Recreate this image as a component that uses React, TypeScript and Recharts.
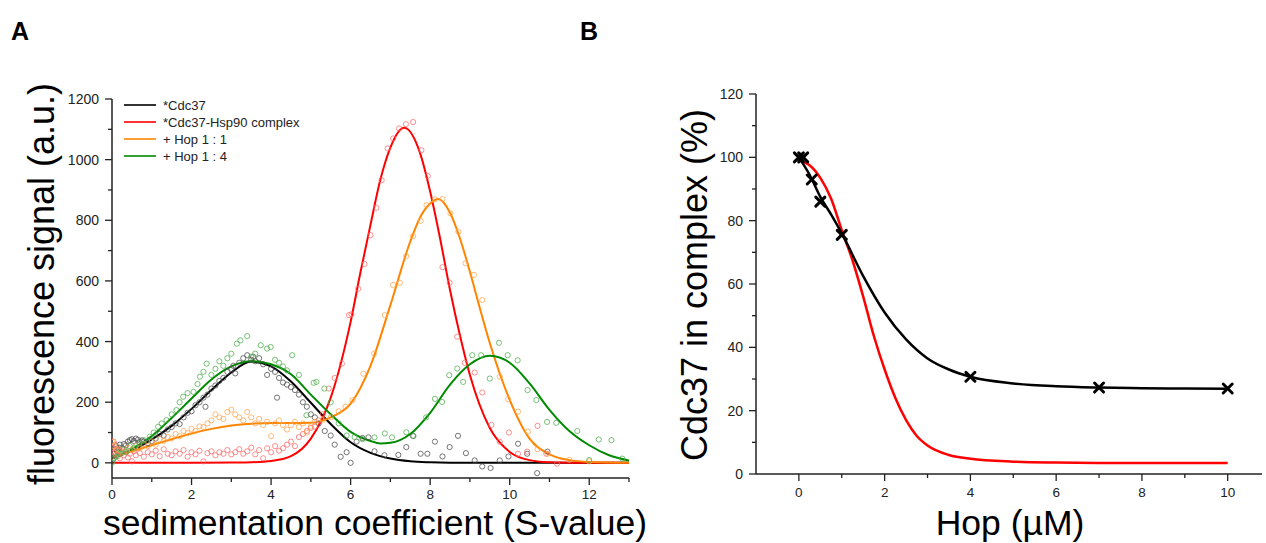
import React from 'react';
import { ComposedChart, Line, Scatter, XAxis, YAxis } from 'recharts';

type Pt = [number, number];

// ---- panel A: fitted curves, [S-value, signal] ----
const cdc37Fit: Pt[] = [
  [0, 15], [0.5, 40], [1, 77], [1.5, 122], [2, 178], [2.5, 240], [3, 298], [3.5, 334], [4, 318],
  [4.5, 268], [5, 198], [5.5, 128], [6, 68], [6.5, 33], [7, 14], [7.5, 5], [8, 2], [9, 0], [10, 0],
  [11, 0], [12, 0], [13, 0],
];
const hsp90Fit: Pt[] = [
  [0, 0], [1, 0], [2, 0], [3, 1], [3.5, 2], [4, 6], [4.5, 22], [5, 80], [5.5, 215], [6, 465],
  [6.25, 630], [6.5, 785], [6.75, 935], [7, 1040], [7.35, 1105], [7.75, 1020], [8, 895], [8.25, 740],
  [8.5, 570], [8.75, 420], [9, 290], [9.5, 115], [10, 36], [10.5, 9], [11, 2], [12, 0], [13, 0],
];
const hop11Fit: Pt[] = [
  [0, 18], [0.5, 38], [1, 58], [1.5, 78], [2, 97], [2.5, 112], [3, 123], [3.5, 129], [4, 131],
  [4.5, 131], [5, 132], [5.5, 150], [6, 195], [6.5, 320], [7, 520], [7.5, 730], [7.75, 810],
  [8, 855], [8.2, 870], [8.5, 825], [8.75, 740], [9, 630], [9.25, 510], [9.5, 395], [10, 208],
  [10.5, 80], [11, 28], [11.5, 9], [12, 3], [13, 0],
];
const hop14Fit: Pt[] = [
  [0, 15], [0.5, 45], [1, 88], [1.5, 148], [2, 212], [2.5, 275], [3, 318], [3.5, 335], [4, 325],
  [4.5, 292], [5, 225], [5.5, 160], [6, 102], [6.5, 72], [6.75, 64], [7, 66], [7.5, 95], [8, 165],
  [8.5, 258], [9, 325], [9.5, 353], [10, 330], [10.5, 262], [11, 175], [11.5, 105], [12, 58],
  [12.5, 25], [13, 8],
];

// ---- panel A: measured points ----
const cdc37Pts: Pt[] = [
  [0.02, 10], [0.05, 30], [0.08, 45], [0.1, 55], [0.13, 38], [0.17, 50], [0.2, 60], [0.25, 48],
  [0.3, 62], [0.35, 58], [0.4, 70], [0.45, 75], [0.5, 78], [0.55, 72], [0.6, 80], [0.65, 76],
  [0.7, 68], [0.75, 74], [0.8, 70], [0.9, 65], [1.0, 72], [1.1, 80], [1.2, 95], [1.3, 90],
  [1.4, 110], [1.5, 118], [1.6, 130], [1.7, 128], [1.8, 150], [1.9, 165], [2.0, 170], [2.1, 190],
  [2.2, 200], [2.3, 215], [2.35, 185], [2.4, 225], [2.5, 245], [2.6, 255], [2.7, 270], [2.8, 280],
  [2.9, 300], [3.0, 310], [3.05, 320], [3.1, 295], [3.2, 330], [3.3, 345], [3.4, 355], [3.5, 340],
  [3.55, 350], [3.6, 335], [3.7, 345], [3.8, 325], [3.9, 290], [4.0, 310], [4.1, 300], [4.15, 215],
  [4.2, 280], [4.3, 265], [4.4, 258], [4.5, 250], [4.6, 240], [4.7, 225], [4.8, 200], [4.9, 185],
  [5.0, 160], [5.1, 150], [5.2, 130], [5.35, 105], [5.5, 90], [5.6, 60], [5.75, 20], [5.9, 35],
  [6.0, 0], [6.15, 70], [6.3, 82], [6.45, 84], [6.6, 38], [6.85, 25], [7.2, 26], [7.4, 52],
  [7.57, 89], [7.76, 30], [7.93, 30], [8.12, 70], [8.31, 21], [8.49, 52], [8.7, 89], [8.9, 32],
  [9.12, 8], [9.31, -12], [9.52, -17], [9.75, 8], [9.97, 21], [10.21, 63], [10.44, 30],
  [10.69, -34], [10.95, 37],
];
const hsp90Pts: Pt[] = [
  [0, 20], [0.02, 50], [0.04, 70], [0.06, 35], [0.08, 60], [0.1, 28], [0.12, 45], [0.15, 22],
  [0.18, 40], [0.2, 15], [0.25, 35], [0.3, 25], [0.35, 42], [0.4, 18], [0.45, 30], [0.5, 5],
  [0.55, 38], [0.6, 25], [0.7, 32], [0.8, 20], [0.9, 35], [1.0, 28], [1.1, 40], [1.2, 22],
  [1.3, 45], [1.4, 30], [1.5, 25], [1.6, 38], [1.7, 30], [1.8, 42], [1.9, 20], [2.0, 35],
  [2.1, 28], [2.2, 40], [2.3, 5], [2.4, 32], [2.5, 38], [2.6, 25], [2.7, 35], [2.8, 30], [2.9, 42],
  [3.0, 28], [3.1, 35], [3.2, 45], [3.3, 30], [3.4, 38], [3.5, 50], [3.6, 28], [3.7, 42],
  [3.8, 15], [3.9, 48], [4.0, 35], [4.1, 55], [4.2, 40], [4.3, 48], [4.4, 60], [4.5, 70],
  [4.6, 55], [4.7, 85], [4.8, 95], [4.9, 105], [5.0, 115], [5.1, 120], [5.2, 140], [5.3, 160],
  [5.45, 245], [5.6, 280], [5.78, 327], [5.96, 487], [6.02, 490], [6.19, 574], [6.35, 656],
  [6.5, 751], [6.65, 841], [6.78, 932], [6.93, 1037], [7.07, 1070], [7.22, 1103], [7.39, 1117],
  [7.57, 1124], [7.78, 1031], [7.94, 946], [8.31, 645], [8.49, 594], [8.68, 416], [8.87, 330],
  [9.12, 298], [9.31, 232], [9.54, 125], [9.75, 70], [9.98, 100], [10.21, 30], [10.44, 37],
  [10.7, 122], [10.92, 30], [11.19, -3],
];
const hop11Pts: Pt[] = [
  [0, 70], [0.05, 55], [0.1, 40], [0.15, 30], [0.2, 45], [0.3, 35], [0.4, 50], [0.5, 42],
  [0.6, 55], [0.7, 48], [0.8, 62], [0.9, 55], [1.0, 70], [1.1, 60], [1.2, 78], [1.3, 72],
  [1.4, 85], [1.5, 80], [1.6, 95], [1.7, 88], [1.8, 105], [1.9, 98], [2.0, 112], [2.1, 105],
  [2.2, 120], [2.3, 118], [2.4, 130], [2.5, 140], [2.6, 160], [2.7, 150], [2.8, 145], [2.9, 168],
  [3.0, 175], [3.1, 160], [3.2, 150], [3.3, 140], [3.4, 168], [3.5, 150], [3.6, 130], [3.7, 145],
  [3.8, 125], [3.9, 135], [4.0, 88], [4.1, 130], [4.2, 140], [4.3, 125], [4.4, 110], [4.5, 124],
  [4.6, 135], [4.7, 118], [4.8, 130], [4.9, 100], [5.0, 120], [5.1, 135], [5.3, 142], [5.5, 150],
  [5.7, 170], [5.87, 185], [6.05, 207], [6.32, 294], [6.59, 360], [6.86, 487], [7.07, 587],
  [7.24, 594], [7.4, 682], [7.57, 748], [7.76, 798], [7.91, 850], [8.12, 869], [8.31, 870],
  [8.51, 823], [8.71, 762], [8.89, 658], [9.1, 620], [9.31, 537], [9.75, 284], [9.96, 210],
  [10.21, 169], [10.46, 103], [10.7, 45], [10.95, 30], [11.5, 10], [12.0, 5],
];
const hop14Pts: Pt[] = [
  [0, 0], [0.05, 15], [0.1, 20], [0.15, 35], [0.2, 30], [0.3, 45], [0.36, 36], [0.45, 55],
  [0.55, 50], [0.69, 64], [0.8, 75], [0.95, 86], [1.05, 100], [1.16, 119], [1.25, 130],
  [1.37, 141], [1.5, 160], [1.62, 174], [1.7, 200], [1.79, 218], [1.9, 230], [2.05, 234],
  [2.15, 260], [2.21, 284], [2.3, 300], [2.38, 327], [2.5, 290], [2.6, 310], [2.7, 335],
  [2.8, 320], [2.9, 345], [3.0, 360], [3.14, 393], [3.23, 404], [3.4, 418], [3.5, 350], [3.6, 360],
  [3.74, 388], [3.9, 377], [3.99, 382], [4.1, 340], [4.2, 330], [4.3, 318], [4.4, 305],
  [4.53, 355], [4.7, 290], [4.89, 157], [5.07, 264], [5.14, 267], [5.34, 245], [5.5, 200],
  [5.7, 130], [5.9, 90], [6.1, 85], [6.3, 78], [6.6, 84], [6.86, 97], [7.04, 84], [7.4, 101],
  [7.58, 88], [7.9, 150], [8.12, 211], [8.3, 201], [8.48, 289], [8.68, 311], [8.83, 267],
  [9.06, 355], [9.28, 355], [9.5, 278], [9.73, 396], [9.95, 355], [10.2, 338], [10.45, 240],
  [10.67, 207], [10.94, 135], [11.17, 132], [11.7, 105], [12.0, 9], [12.24, 77], [12.56, 75],
  [12.83, 14],
];

const legendLabels = ['*Cdc37', '*Cdc37-Hsp90 complex', '+ Hop 1 : 1', '+ Hop 1 : 4'];
const curveColors = ['#000000', '#ff0000', '#ff8400', '#008a00'];
const pointColors = ['#4a4a4a', '#ff6a6a', '#ffa54f', '#4cae4c'];

// ---- panel B ----
const hopConc = [0, 0.1, 0.3, 0.5, 1, 4, 7, 10];
const complexPct = [100, 100, 93, 86, 75.5, 30.7, 27.3, 27];
const measuredFit: Pt[] = [
  [0, 100], [0.25, 94.5], [0.5, 87.5], [0.75, 82], [1, 76], [1.5, 62.5], [2, 51], [2.5, 42.5],
  [3, 36.5], [3.5, 33], [4, 30.7], [5, 28.6], [6, 27.7], [7, 27.3], [8, 27.1], [9, 27], [10, 26.9],
];
const modelFit: Pt[] = [
  [0, 99], [0.25, 97.5], [0.5, 93.5], [0.75, 87], [1, 77], [1.25, 67.5], [1.5, 56], [1.75, 43.5],
  [2, 33], [2.25, 24], [2.5, 17], [2.75, 12], [3, 9], [3.5, 6], [4, 4.8], [5, 3.9], [6, 3.6],
  [7, 3.5], [8, 3.5], [10, 3.5],
];

const sTicks = [0, 1, 2, 3, 4, 5, 6, 7, 8, 9, 10, 11, 12, 13];
const signalTicks = [0, 100, 200, 300, 400, 500, 600, 700, 800, 900, 1000, 1100, 1200];
const hopTicks = [0, 1, 2, 3, 4, 5, 6, 7, 8, 9, 10];
const pctTicks = [0, 10, 20, 30, 40, 50, 60, 70, 80, 90, 100, 110, 120];

const FONT = "'Liberation Sans', Arial, sans-serif";
const AXIS = '#222';

const toXY = (pts: Pt[]) => pts.map(([x, y]) => ({ x, y }));
const curvesA = [cdc37Fit, hsp90Fit, hop11Fit, hop14Fit].map(toXY);
const pointsA = [cdc37Pts, hsp90Pts, hop11Pts, hop14Pts].map(toXY);
const measured = hopConc.map((x, i) => ({ x, y: complexPct[i] }));

const bottomTick = (isMajor: (v: number) => boolean, labelDy: number) => (props: any) => {
  const { x, y, payload } = props;
  const major = isMajor(payload.value);
  return (
    <g>
      <line x1={x} y1={y} x2={x} y2={y + (major ? 7 : 4)} stroke={AXIS} strokeWidth={1.3} />
      {major && (
        <text x={x} y={y + labelDy} textAnchor="middle" fontSize={13.5} fill={AXIS} fontFamily={FONT}>
          {payload.value}
        </text>
      )}
    </g>
  );
};

const leftTick = (isMajor: (v: number) => boolean, gap: number) => (props: any) => {
  const { x, y, payload } = props;
  const major = isMajor(payload.value);
  return (
    <g>
      <line x1={x} y1={y} x2={x - (major ? 7 : 4)} y2={y} stroke={AXIS} strokeWidth={1.3} />
      {major && (
        <text x={x - gap} y={y + 5} textAnchor="end" fontSize={14} fill={AXIS} fontFamily={FONT}>
          {payload.value}
        </text>
      )}
    </g>
  );
};

const ring = (color: string) => (props: any) => (
  <circle cx={props.cx} cy={props.cy} r={2.6} fill="none" stroke={color} strokeWidth={1} strokeOpacity={0.75} />
);

const cross = (props: any) => {
  const { cx, cy } = props;
  const s = 4.5;
  return (
    <g stroke="#000" strokeWidth={3} strokeLinecap="round">
      <line x1={cx - s} y1={cy - s} x2={cx + s} y2={cy + s} />
      <line x1={cx - s} y1={cy + s} x2={cx + s} y2={cy - s} />
    </g>
  );
};

const axisLine = { stroke: AXIS, strokeWidth: 1.5 };

export default function App() {
  return (
    <div style={{ position: 'fixed', left: 0, top: 0, width: 1266, height: 543, background: '#fff' }}>
      <div style={{ position: 'absolute', left: 0, top: 0 }}>
        <ComposedChart width={660} height={543} margin={{ top: 99, right: 31, bottom: 35, left: 0 }}>
          <XAxis
            type="number"
            dataKey="x"
            domain={[0, 13]}
            ticks={sTicks}
            interval={0}
            tickSize={0}
            tickMargin={0}
            tickLine={false}
            axisLine={axisLine}
            tick={bottomTick((v) => v % 2 === 0, 21)}
            height={30}
            allowDataOverflow
          />
          <YAxis
            type="number"
            domain={[-50, 1200]}
            ticks={signalTicks}
            interval={0}
            tickSize={0}
            tickMargin={0}
            tickLine={false}
            axisLine={axisLine}
            tick={leftTick((v) => v % 200 === 0, 13)}
            width={112}
            allowDataOverflow
          />
          {pointsA.map((pts, i) => (
            <Scatter key={'p' + i} data={pts} dataKey="y" shape={ring(pointColors[i])} isAnimationActive={false} />
          ))}
          {curvesA.map((pts, i) => (
            <Line
              key={'c' + i}
              data={pts}
              dataKey="y"
              type="monotone"
              stroke={curveColors[i]}
              strokeWidth={2}
              dot={false}
              activeDot={false}
              isAnimationActive={false}
            />
          ))}
        </ComposedChart>
      </div>

      <div style={{ position: 'absolute', left: 660, top: 0 }}>
        <ComposedChart width={606} height={543} margin={{ top: 94, right: 4, bottom: 39, left: 0 }}>
          <XAxis
            type="number"
            dataKey="x"
            domain={[-1, 10.8]}
            ticks={hopTicks}
            interval={0}
            tickSize={0}
            tickMargin={0}
            tickLine={false}
            axisLine={axisLine}
            tick={bottomTick((v) => v % 2 === 0, 23)}
            height={30}
            allowDataOverflow
          />
          <YAxis
            type="number"
            domain={[0, 120]}
            ticks={pctTicks}
            interval={0}
            tickSize={0}
            tickMargin={0}
            tickLine={false}
            axisLine={axisLine}
            tick={leftTick((v) => v % 20 === 0, 13)}
            width={96}
            allowDataOverflow
          />
          <Line data={toXY(modelFit)} dataKey="y" type="monotone" stroke="#ff0000" strokeWidth={2.5} dot={false} activeDot={false} isAnimationActive={false} />
          <Line data={toXY(measuredFit)} dataKey="y" type="monotone" stroke="#000" strokeWidth={2.5} dot={false} activeDot={false} isAnimationActive={false} />
          <Scatter data={measured} dataKey="y" shape={cross} isAnimationActive={false} />
        </ComposedChart>
      </div>

      <svg
        width={1266}
        height={543}
        style={{ position: 'absolute', left: 0, top: 0, pointerEvents: 'none' }}
        fontFamily={FONT}
      >
        <text x={11} y={40} fontSize={25} fontWeight="bold" fill="#000">A</text>
        <text x={580} y={40} fontSize={25} fontWeight="bold" fill="#000">B</text>

        <text transform="translate(54,284) rotate(-90)" textAnchor="middle" fontSize={36} fill="#000">
          fluorescence signal (a.u.)
        </text>
        <text x={375} y={535} textAnchor="middle" fontSize={35.5} fill="#000">
          sedimentation coefficient (S-value)
        </text>
        <text transform="translate(707,285) rotate(-90)" textAnchor="middle" fontSize={36} fill="#000">
          Cdc37 in complex (%)
        </text>
        <text x={1010} y={535} textAnchor="middle" fontSize={35.5} fill="#000">
          Hop (µM)
        </text>

        {legendLabels.map((label, i) => {
          const y = 105 + i * 17;
          return (
            <g key={label}>
              <line x1={124} y1={y} x2={156} y2={y} stroke={curveColors[i]} strokeWidth={1.6} />
              <text x={163} y={y + 4.5} fontSize={13} fill="#222">{label}</text>
            </g>
          );
        })}
      </svg>
    </div>
  );
}
